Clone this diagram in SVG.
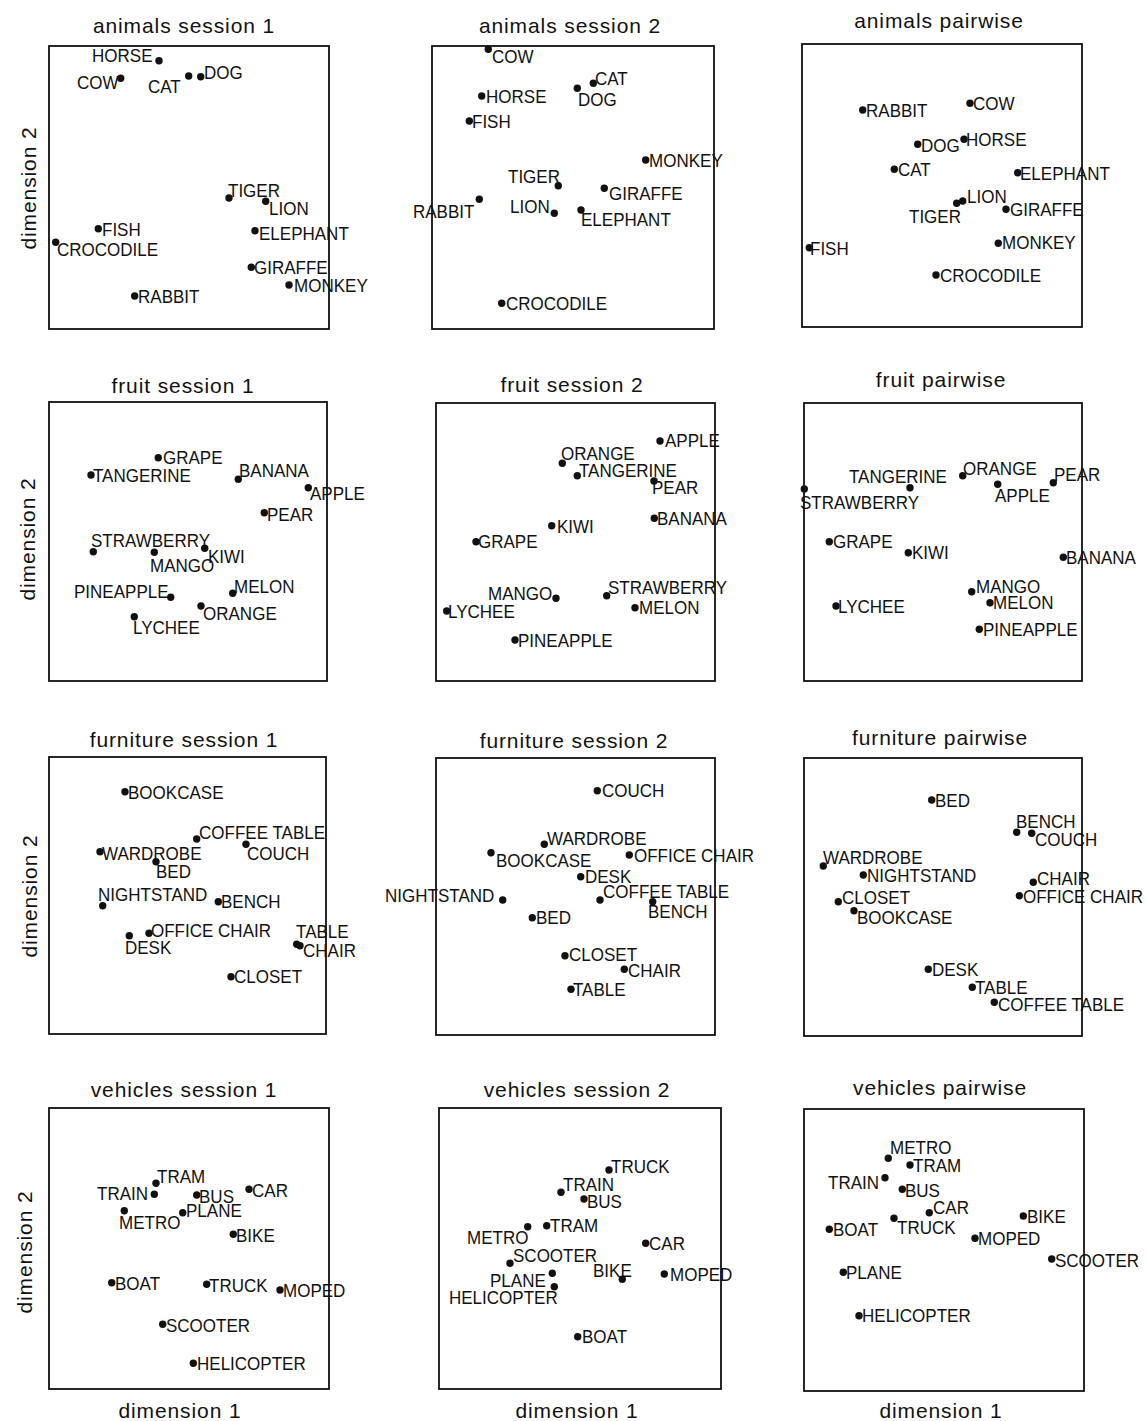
<svg xmlns="http://www.w3.org/2000/svg" xmlns:xlink="http://www.w3.org/1999/xlink" width="1147" height="1421" viewBox="0 0 1147 1421">
<style>
text{font-family:"Liberation Sans",Arial,sans-serif;fill:#111}
.t{font-size:21px;letter-spacing:0.9px;text-anchor:middle}
.l{font-size:18.5px;transform-box:fill-box;transform-origin:0 50%;transform:scaleX(.92)}
.b{fill:none;stroke:#111;stroke-width:1.8}
</style>
<defs><circle id="p" r="3.7" fill="#111"/></defs>
<rect width="1147" height="1421" fill="#fff"/>

<g id="axes">
<text class="t" transform="translate(36 188) rotate(-90)">dimension 2</text>
<text class="t" transform="translate(35 539) rotate(-90)">dimension 2</text>
<text class="t" transform="translate(37 896) rotate(-90)">dimension 2</text>
<text class="t" transform="translate(32 1252) rotate(-90)">dimension 2</text>
<text class="t" x="180" y="1418">dimension 1</text>
<text class="t" x="577" y="1418">dimension 1</text>
<text class="t" x="941" y="1418">dimension 1</text>
</g>

<g id="animals-s1">
<text class="t" x="184" y="33">animals session 1</text>
<rect class="b" x="49" y="46" width="280" height="283"/>
<use href="#p" x="159" y="60.7"/><text class="l" x="92" y="62">HORSE</text>
<use href="#p" x="120.7" y="78.3"/><text class="l" x="77" y="89">COW</text>
<use href="#p" x="188.7" y="76"/><text class="l" x="148" y="93">CAT</text>
<use href="#p" x="200.7" y="76.7"/><text class="l" x="204" y="79">DOG</text>
<use href="#p" x="229" y="198"/><text class="l" x="228" y="197">TIGER</text>
<use href="#p" x="265.7" y="201.3"/><text class="l" x="269" y="215">LION</text>
<use href="#p" x="98.3" y="228.7"/><text class="l" x="102" y="236">FISH</text>
<use href="#p" x="55.7" y="242.3"/><text class="l" x="57" y="256">CROCODILE</text>
<use href="#p" x="255" y="230.7"/><text class="l" x="259" y="240">ELEPHANT</text>
<use href="#p" x="251.3" y="267.3"/><text class="l" x="254" y="274">GIRAFFE</text>
<use href="#p" x="289" y="285"/><text class="l" x="294" y="292">MONKEY</text>
<use href="#p" x="134.7" y="296"/><text class="l" x="138" y="303">RABBIT</text>
</g>

<g id="animals-s2">
<text class="t" x="570" y="33">animals session 2</text>
<rect class="b" x="432" y="46" width="282" height="283"/>
<use href="#p" x="488.3" y="49.3"/><text class="l" x="492" y="63">COW</text>
<use href="#p" x="593.3" y="83.3"/><text class="l" x="595" y="85">CAT</text>
<use href="#p" x="577.3" y="88.3"/><text class="l" x="578" y="106">DOG</text>
<use href="#p" x="481.7" y="96"/><text class="l" x="486" y="103">HORSE</text>
<use href="#p" x="469.3" y="121"/><text class="l" x="472" y="128">FISH</text>
<use href="#p" x="645.7" y="160"/><text class="l" x="649" y="167">MONKEY</text>
<use href="#p" x="558.3" y="185.7"/><text class="l" x="508" y="183">TIGER</text>
<use href="#p" x="604.3" y="188.3"/><text class="l" x="609" y="200">GIRAFFE</text>
<use href="#p" x="479.3" y="199.3"/><text class="l" x="413" y="218">RABBIT</text>
<use href="#p" x="554.3" y="213.3"/><text class="l" x="510" y="213">LION</text>
<use href="#p" x="581" y="210"/><text class="l" x="581" y="226">ELEPHANT</text>
<use href="#p" x="501.7" y="303.3"/><text class="l" x="506" y="310">CROCODILE</text>
</g>

<g id="animals-pairwise">
<text class="t" x="939" y="28">animals pairwise</text>
<rect class="b" x="802" y="44" width="280" height="283"/>
<use href="#p" x="862.7" y="110"/><text class="l" x="866" y="117">RABBIT</text>
<use href="#p" x="970" y="103.3"/><text class="l" x="973" y="110">COW</text>
<use href="#p" x="917.7" y="144.3"/><text class="l" x="921" y="152">DOG</text>
<use href="#p" x="964" y="139.3"/><text class="l" x="966" y="146">HORSE</text>
<use href="#p" x="894.3" y="169.3"/><text class="l" x="898" y="176">CAT</text>
<use href="#p" x="1017.7" y="172.7"/><text class="l" x="1020" y="180">ELEPHANT</text>
<use href="#p" x="962.7" y="201"/><text class="l" x="967" y="203">LION</text>
<use href="#p" x="956.7" y="203.3"/><text class="l" x="909" y="223">TIGER</text>
<use href="#p" x="1006" y="209.3"/><text class="l" x="1010" y="216">GIRAFFE</text>
<use href="#p" x="809.3" y="247.7"/><text class="l" x="810" y="255">FISH</text>
<use href="#p" x="998.3" y="243.3"/><text class="l" x="1002" y="249">MONKEY</text>
<use href="#p" x="936" y="275"/><text class="l" x="940" y="282">CROCODILE</text>
</g>

<g id="fruit-s1">
<text class="t" x="183" y="393">fruit session 1</text>
<rect class="b" x="49" y="402" width="278" height="279"/>
<use href="#p" x="158.3" y="457.7"/><text class="l" x="163" y="464">GRAPE</text>
<use href="#p" x="91" y="475"/><text class="l" x="93" y="482">TANGERINE</text>
<use href="#p" x="238.3" y="479.3"/><text class="l" x="239" y="477">BANANA</text>
<use href="#p" x="308.3" y="487.7"/><text class="l" x="310" y="500">APPLE</text>
<use href="#p" x="264.3" y="512.7"/><text class="l" x="267" y="521">PEAR</text>
<use href="#p" x="93.3" y="551.7"/><text class="l" x="91" y="547">STRAWBERRY</text>
<use href="#p" x="154.3" y="552.3"/><text class="l" x="150" y="572">MANGO</text>
<use href="#p" x="204.7" y="548.3"/><text class="l" x="208" y="563">KIWI</text>
<use href="#p" x="170.7" y="597.3"/><text class="l" x="74" y="598">PINEAPPLE</text>
<use href="#p" x="232.7" y="593.3"/><text class="l" x="234" y="593">MELON</text>
<use href="#p" x="201" y="606"/><text class="l" x="203" y="620">ORANGE</text>
<use href="#p" x="134.3" y="616.7"/><text class="l" x="133" y="634">LYCHEE</text>
</g>

<g id="fruit-s2">
<text class="t" x="572" y="392">fruit session 2</text>
<rect class="b" x="436" y="403" width="279" height="278"/>
<use href="#p" x="660" y="441"/><text class="l" x="665" y="447">APPLE</text>
<use href="#p" x="562.3" y="463.3"/><text class="l" x="561" y="460">ORANGE</text>
<use href="#p" x="577.3" y="475.7"/><text class="l" x="579" y="477">TANGERINE</text>
<use href="#p" x="654" y="481"/><text class="l" x="652" y="494">PEAR</text>
<use href="#p" x="654.3" y="518.3"/><text class="l" x="657" y="525">BANANA</text>
<use href="#p" x="551.7" y="525.7"/><text class="l" x="557" y="533">KIWI</text>
<use href="#p" x="476" y="541.7"/><text class="l" x="478" y="548">GRAPE</text>
<use href="#p" x="556" y="598.3"/><text class="l" x="488" y="600">MANGO</text>
<use href="#p" x="606.7" y="595.7"/><text class="l" x="608" y="594">STRAWBERRY</text>
<use href="#p" x="446.7" y="611"/><text class="l" x="448" y="618">LYCHEE</text>
<use href="#p" x="635" y="607.7"/><text class="l" x="639" y="614">MELON</text>
<use href="#p" x="515" y="640"/><text class="l" x="518" y="647">PINEAPPLE</text>
</g>

<g id="fruit-pairwise">
<text class="t" x="941" y="387">fruit pairwise</text>
<rect class="b" x="804" y="403" width="278" height="278"/>
<use href="#p" x="804.3" y="489"/><text class="l" x="800" y="509">STRAWBERRY</text>
<use href="#p" x="910" y="487.7"/><text class="l" x="849" y="483">TANGERINE</text>
<use href="#p" x="962.7" y="475.7"/><text class="l" x="963" y="475">ORANGE</text>
<use href="#p" x="997.7" y="484.3"/><text class="l" x="995" y="502">APPLE</text>
<use href="#p" x="1053.3" y="482.7"/><text class="l" x="1054" y="481">PEAR</text>
<use href="#p" x="829.3" y="541.7"/><text class="l" x="833" y="548">GRAPE</text>
<use href="#p" x="908.3" y="552.7"/><text class="l" x="912" y="559">KIWI</text>
<use href="#p" x="1063.3" y="557.3"/><text class="l" x="1066" y="564">BANANA</text>
<use href="#p" x="971.7" y="591.7"/><text class="l" x="976" y="593">MANGO</text>
<use href="#p" x="990" y="602.7"/><text class="l" x="993" y="609">MELON</text>
<use href="#p" x="836" y="606"/><text class="l" x="838" y="613">LYCHEE</text>
<use href="#p" x="979.3" y="629.3"/><text class="l" x="983" y="636">PINEAPPLE</text>
</g>

<g id="furniture-s1">
<text class="t" x="184" y="747">furniture session 1</text>
<rect class="b" x="49" y="757" width="277" height="277"/>
<use href="#p" x="125" y="791.7"/><text class="l" x="128" y="799">BOOKCASE</text>
<use href="#p" x="196.7" y="839"/><text class="l" x="199" y="839">COFFEE TABLE</text>
<use href="#p" x="246" y="844.3"/><text class="l" x="247" y="860">COUCH</text>
<use href="#p" x="100" y="851.7"/><text class="l" x="102" y="860">WARDROBE</text>
<use href="#p" x="156" y="861.7"/><text class="l" x="156" y="878">BED</text>
<use href="#p" x="102.7" y="905.7"/><text class="l" x="98" y="901">NIGHTSTAND</text>
<use href="#p" x="218.3" y="901.7"/><text class="l" x="221" y="908">BENCH</text>
<use href="#p" x="149" y="933.3"/><text class="l" x="151" y="937">OFFICE CHAIR</text>
<use href="#p" x="129.3" y="935.7"/><text class="l" x="125" y="954">DESK</text>
<use href="#p" x="296.7" y="944.3"/><text class="l" x="296" y="938">TABLE</text>
<use href="#p" x="300" y="945.7"/><text class="l" x="303" y="957">CHAIR</text>
<use href="#p" x="231" y="976.7"/><text class="l" x="234" y="983">CLOSET</text>
</g>

<g id="furniture-s2">
<text class="t" x="574" y="748">furniture session 2</text>
<rect class="b" x="436" y="758" width="279" height="277"/>
<use href="#p" x="597.3" y="790.7"/><text class="l" x="602" y="797">COUCH</text>
<use href="#p" x="544.3" y="844.3"/><text class="l" x="547" y="845">WARDROBE</text>
<use href="#p" x="491" y="852.7"/><text class="l" x="496" y="867">BOOKCASE</text>
<use href="#p" x="629.3" y="855"/><text class="l" x="634" y="862">OFFICE CHAIR</text>
<use href="#p" x="580.7" y="876.7"/><text class="l" x="585" y="883">DESK</text>
<use href="#p" x="502.7" y="900"/><text class="l" x="385" y="902">NIGHTSTAND</text>
<use href="#p" x="600" y="900"/><text class="l" x="603" y="898">COFFEE TABLE</text>
<use href="#p" x="652.7" y="901.7"/><text class="l" x="648" y="918">BENCH</text>
<use href="#p" x="532.3" y="917.7"/><text class="l" x="536" y="924">BED</text>
<use href="#p" x="565" y="955.7"/><text class="l" x="569" y="961">CLOSET</text>
<use href="#p" x="624.3" y="969.3"/><text class="l" x="628" y="977">CHAIR</text>
<use href="#p" x="571" y="989.3"/><text class="l" x="573" y="996">TABLE</text>
</g>

<g id="furniture-pairwise">
<text class="t" x="940" y="745">furniture pairwise</text>
<rect class="b" x="804" y="758" width="278" height="278"/>
<use href="#p" x="931.7" y="800"/><text class="l" x="935" y="807">BED</text>
<use href="#p" x="1016.7" y="832.3"/><text class="l" x="1016" y="828">BENCH</text>
<use href="#p" x="1031.7" y="833.3"/><text class="l" x="1035" y="846">COUCH</text>
<use href="#p" x="823.3" y="866"/><text class="l" x="823" y="864">WARDROBE</text>
<use href="#p" x="863.3" y="875"/><text class="l" x="867" y="882">NIGHTSTAND</text>
<use href="#p" x="1033.3" y="882.3"/><text class="l" x="1037" y="885">CHAIR</text>
<use href="#p" x="838.3" y="901.7"/><text class="l" x="842" y="904">CLOSET</text>
<use href="#p" x="1019.3" y="895.7"/><text class="l" x="1023" y="903">OFFICE CHAIR</text>
<use href="#p" x="854" y="910.7"/><text class="l" x="857" y="924">BOOKCASE</text>
<use href="#p" x="928.3" y="969.3"/><text class="l" x="932" y="976">DESK</text>
<use href="#p" x="972.3" y="987.3"/><text class="l" x="975" y="994">TABLE</text>
<use href="#p" x="994.3" y="1002.3"/><text class="l" x="998" y="1011">COFFEE TABLE</text>
</g>

<g id="vehicles-s1">
<text class="t" x="184" y="1097">vehicles session 1</text>
<rect class="b" x="49" y="1108" width="280" height="281"/>
<use href="#p" x="156" y="1183.3"/><text class="l" x="157" y="1183">TRAM</text>
<use href="#p" x="154.3" y="1194.3"/><text class="l" x="97" y="1200">TRAIN</text>
<use href="#p" x="196.7" y="1195"/><text class="l" x="199" y="1203">BUS</text>
<use href="#p" x="249" y="1189.3"/><text class="l" x="252" y="1197">CAR</text>
<use href="#p" x="124.3" y="1210.7"/><text class="l" x="119" y="1229">METRO</text>
<use href="#p" x="182.7" y="1212.7"/><text class="l" x="186" y="1217">PLANE</text>
<use href="#p" x="233.3" y="1234.3"/><text class="l" x="236" y="1242">BIKE</text>
<use href="#p" x="111.7" y="1282.7"/><text class="l" x="115" y="1290">BOAT</text>
<use href="#p" x="206.7" y="1284.3"/><text class="l" x="209" y="1292">TRUCK</text>
<use href="#p" x="280" y="1290"/><text class="l" x="283" y="1297">MOPED</text>
<use href="#p" x="162.7" y="1324.3"/><text class="l" x="166" y="1332">SCOOTER</text>
<use href="#p" x="193.3" y="1363.3"/><text class="l" x="197" y="1370">HELICOPTER</text>
</g>

<g id="vehicles-s2">
<text class="t" x="577" y="1097">vehicles session 2</text>
<rect class="b" x="439" y="1108" width="282" height="281"/>
<use href="#p" x="609" y="1170"/><text class="l" x="611" y="1173">TRUCK</text>
<use href="#p" x="561" y="1192.3"/><text class="l" x="563" y="1191">TRAIN</text>
<use href="#p" x="584" y="1199"/><text class="l" x="587" y="1208">BUS</text>
<use href="#p" x="546.7" y="1225.7"/><text class="l" x="550" y="1232">TRAM</text>
<use href="#p" x="527.7" y="1226.7"/><text class="l" x="467" y="1244">METRO</text>
<use href="#p" x="645.7" y="1243.3"/><text class="l" x="649" y="1250">CAR</text>
<use href="#p" x="510" y="1263.3"/><text class="l" x="513" y="1262">SCOOTER</text>
<use href="#p" x="552.3" y="1273.3"/><text class="l" x="490" y="1287">PLANE</text>
<use href="#p" x="622.3" y="1279.3"/><text class="l" x="593" y="1277">BIKE</text>
<use href="#p" x="664.3" y="1274"/><text class="l" x="670" y="1281">MOPED</text>
<use href="#p" x="554.3" y="1286.7"/><text class="l" x="449" y="1304">HELICOPTER</text>
<use href="#p" x="577.7" y="1336.7"/><text class="l" x="582" y="1343">BOAT</text>
</g>

<g id="vehicles-pairwise">
<text class="t" x="940" y="1095">vehicles pairwise</text>
<rect class="b" x="804" y="1109" width="280" height="282"/>
<use href="#p" x="888.3" y="1158.3"/><text class="l" x="890" y="1154">METRO</text>
<use href="#p" x="910" y="1165"/><text class="l" x="913" y="1172">TRAM</text>
<use href="#p" x="885" y="1177.7"/><text class="l" x="828" y="1189">TRAIN</text>
<use href="#p" x="902.3" y="1189.3"/><text class="l" x="905" y="1197">BUS</text>
<use href="#p" x="929.3" y="1212.7"/><text class="l" x="933" y="1214">CAR</text>
<use href="#p" x="894" y="1218.3"/><text class="l" x="897" y="1234">TRUCK</text>
<use href="#p" x="1023.3" y="1216"/><text class="l" x="1027" y="1223">BIKE</text>
<use href="#p" x="829.3" y="1229.3"/><text class="l" x="833" y="1236">BOAT</text>
<use href="#p" x="975" y="1238.3"/><text class="l" x="978" y="1245">MOPED</text>
<use href="#p" x="1051.7" y="1259"/><text class="l" x="1055" y="1267">SCOOTER</text>
<use href="#p" x="843.3" y="1272.3"/><text class="l" x="846" y="1279">PLANE</text>
<use href="#p" x="859" y="1315.7"/><text class="l" x="862" y="1322">HELICOPTER</text>
</g>
</svg>
